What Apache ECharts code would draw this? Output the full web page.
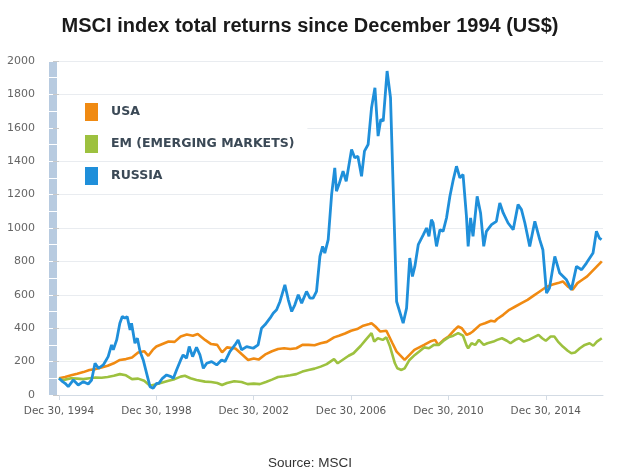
<!DOCTYPE html>
<html>
<head>
<meta charset="utf-8">
<script src="https://cdn.jsdelivr.net/npm/echarts@6/dist/echarts.min.js"></script>
<style>html,body{margin:0;padding:0;background:#fff}#c{width:620px;height:473px}</style>
</head>
<body>
<div id="c"></div>
<script>
// time = years after Dec 30, 1994
const seriesNames = ['USA', 'EM (EMERGING MARKETS)', 'RUSSIA'];
const xTickYears = [0, 4, 8, 12, 16, 20];
const yTicks = [0, 200, 400, 600, 800, 1000, 1200, 1400, 1600, 1800, 2000];

const usaT = [0,0.25,0.5,0.75,1,1.25,1.5,1.75,2,2.25,2.5,2.75,3,3.25,3.5,3.67,3.85,4,4.25,4.5,4.75,5,5.25,5.5,5.7,6,6.25,6.5,6.7,6.9,7.25,7.5,7.77,8,8.2,8.5,8.75,9,9.25,9.5,9.75,10,10.25,10.5,10.75,11,11.3,11.5,11.75,12,12.25,12.5,12.75,12.84,13,13.2,13.45,13.7,13.87,14,14.2,14.4,14.6,14.8,15,15.25,15.45,15.58,15.8,16,16.25,16.4,16.55,16.75,16.9,17,17.3,17.5,17.75,17.9,18,18.25,18.5,18.75,19,19.25,19.5,19.75,20,20.25,20.5,20.7,20.9,21.1,21.3,21.5,21.7,21.9,22.1,22.3];
const usaV = [100,108,118,127,137,150,155,165,175,190,210,215,225,255,262,235,270,290,305,320,318,350,362,355,365,330,305,300,255,285,278,245,210,218,212,245,262,275,280,275,280,300,300,298,310,318,345,355,368,385,395,415,425,430,410,380,385,310,260,240,210,240,270,285,300,320,330,300,330,350,390,410,400,360,370,380,420,430,445,440,455,480,510,530,550,570,595,620,645,660,670,680,650,630,670,690,710,740,770,800];

const emT = [0,0.1,0.25,0.5,0.75,1,1.25,1.5,1.75,2,2.25,2.5,2.75,3,3.25,3.5,3.74,4,4.25,4.5,4.75,5,5.17,5.4,5.65,6,6.25,6.5,6.7,6.9,7.2,7.5,7.75,8,8.25,8.5,8.75,9,9.25,9.5,9.75,10,10.25,10.5,10.75,11,11.3,11.45,11.6,11.9,12.1,12.4,12.6,12.84,12.95,13.1,13.3,13.45,13.6,13.8,13.9,14.07,14.2,14.4,14.62,14.8,15,15.2,15.4,15.6,15.8,16,16.2,16.4,16.6,16.75,16.81,16.95,17.1,17.25,17.45,17.6,17.85,18,18.2,18.4,18.55,18.75,18.9,19.1,19.3,19.5,19.7,19.85,20,20.2,20.35,20.5,20.7,20.9,21.05,21.2,21.4,21.6,21.8,21.95,22.1,22.3];
const emV = [100,90,92,100,98,95,100,105,103,108,115,125,118,95,98,85,55,65,75,85,95,110,115,100,90,80,78,72,60,72,82,78,65,68,65,78,92,108,112,118,125,140,150,158,170,185,215,190,205,235,250,295,330,370,320,340,330,345,290,190,160,150,160,210,240,260,285,280,300,300,325,345,355,370,355,295,280,310,300,330,300,310,320,330,340,325,310,330,340,320,330,345,360,340,325,350,350,320,290,265,250,255,280,300,310,295,320,340];

const ruT = [0,0.15,0.25,0.38,0.59,0.79,1,1.2,1.34,1.48,1.62,1.82,2.02,2.16,2.23,2.37,2.5,2.6,2.71,2.8,2.92,2.98,3.12,3.22,3.33,3.46,3.6,3.74,3.87,4.01,4.1,4.25,4.42,4.6,4.7,4.83,5,5.1,5.24,5.35,5.49,5.65,5.79,5.93,6.07,6.27,6.48,6.68,6.82,7.02,7.23,7.36,7.5,7.71,7.98,8.18,8.32,8.46,8.67,8.8,8.94,9.08,9.28,9.42,9.56,9.69,9.83,9.97,10.17,10.31,10.44,10.58,10.72,10.83,10.92,11.06,11.2,11.33,11.4,11.5,11.67,11.8,12.02,12.15,12.28,12.43,12.55,12.7,12.84,12.98,13.11,13.22,13.32,13.48,13.62,13.73,13.87,14.14,14.28,14.41,14.52,14.62,14.76,14.97,15.1,15.2,15.3,15.37,15.51,15.65,15.78,15.92,16.06,16.2,16.33,16.47,16.6,16.74,16.81,16.91,17.01,17.18,17.32,17.45,17.56,17.77,17.97,18.11,18.25,18.45,18.66,18.86,19,19.14,19.34,19.55,19.75,19.88,20.03,20.15,20.37,20.57,20.85,21.05,21.26,21.47,21.67,21.94,22.08,22.2,22.29];
const ruV = [100,80,70,50,90,60,80,66,90,190,160,180,230,300,270,330,430,470,460,470,390,430,310,340,260,210,130,50,40,70,70,100,120,110,100,150,210,240,220,290,230,285,240,160,190,200,180,210,200,260,300,330,270,290,280,300,400,420,460,490,510,560,660,570,500,540,600,550,620,580,580,620,830,890,850,930,1200,1360,1220,1260,1340,1280,1470,1420,1430,1310,1460,1500,1720,1840,1550,1650,1640,1940,1780,1240,560,430,520,820,710,770,900,960,1000,950,1050,1030,890,990,980,1060,1190,1290,1370,1300,1320,1070,890,1060,950,1190,1090,890,980,1020,1040,1150,1090,1030,990,1140,1110,1030,890,1040,930,870,610,640,830,730,690,630,770,750,790,850,980,940,930];

const zip = (t, v) => t.map((x, i) => [x, v[i]]);
const colors = ['#f08a12', '#9dc13f', '#1f8fda'];
const FONT = 'DejaVu Sans';

const chart = echarts.init(document.getElementById('c'), null, {renderer: 'canvas'});
const legendText = {fontFamily: FONT, fontSize: 12.5, fontWeight: 'bold', color: '#3b4956', padding: [0, 0, 0, 8]};
chart.setOption({
  animation: false,
  backgroundColor: '#ffffff',
  title: [
    {text: 'MSCI index total returns since December 1994 (US$)', left: 'center', top: 11,
     textStyle: {fontFamily: 'Liberation Sans', fontSize: 20, fontWeight: 'bold', color: '#1a1a1a'}},
    {text: 'Source: MSCI', left: 'center', top: 451,
     textStyle: {fontFamily: 'Liberation Sans', fontSize: 13.5, fontWeight: 'normal', color: '#333333'}}
  ],
  legend: [
    {
      data: [seriesNames[0], seriesNames[1]],
      orient: 'vertical', left: 59, top: 97,
      padding: [6, 13, 5, 26], itemGap: 14,
      itemWidth: 13, itemHeight: 18, icon: 'rect',
      backgroundColor: '#ffffff',
      textStyle: legendText,
      selectedMode: false
    },
    {
      data: [seriesNames[2]],
      orient: 'vertical', left: 85, top: 167,
      padding: 0, itemWidth: 13, itemHeight: 18, icon: 'rect',
      textStyle: legendText,
      selectedMode: false
    }
  ],
  grid: [
    {left: 59, right: 17, top: 61, bottom: 78, containLabel: false},
    {left: 49, width: 8, top: 61, bottom: 78, show: true, backgroundColor: '#b8cbe0', borderWidth: 0}
  ],
  xAxis: [
    {
      type: 'value', gridIndex: 0, min: 0, max: 22.35, interval: 4,
      axisLine: {show: true, lineStyle: {color: '#d3dbe4', width: 1}},
      axisTick: {show: true, length: 5, lineStyle: {color: '#d3dbe4'}, customValues: xTickYears},
      axisLabel: {
        customValues: xTickYears,
        margin: 11, color: '#5a5a5a', fontFamily: FONT, fontSize: 10.5,
        formatter: v => 'Dec 30, ' + (1994 + Math.round(v))
      },
      splitLine: {show: false}
    },
    {type: 'value', gridIndex: 1, min: 0, max: 1, show: false}
  ],
  yAxis: [
    {
      type: 'value', gridIndex: 0, min: 0, max: 2000, interval: 200, offset: 13,
      axisLine: {show: false},
      axisTick: {show: true, length: 6, lineStyle: {color: '#c9c9c9'}},
      axisLabel: {margin: 11, color: '#666666', fontFamily: FONT, fontSize: 11, formatter: v => String(v)},
      splitLine: {show: true, lineStyle: {color: '#e9ecf0', width: 1}}
    },
    {
      type: 'value', gridIndex: 1, min: 0, max: 2000, interval: 100,
      axisLine: {show: false}, axisTick: {show: false}, axisLabel: {show: false},
      splitLine: {show: true, lineStyle: {color: '#ffffff', width: 1}}
    }
  ],
  series: [
    {name: seriesNames[0], type: 'line', data: zip(usaT, usaV), showSymbol: false, lineStyle: {width: 2.6, color: colors[0]}, itemStyle: {color: colors[0]}},
    {name: seriesNames[1], type: 'line', data: zip(emT, emV), showSymbol: false, lineStyle: {width: 2.6, color: colors[1]}, itemStyle: {color: colors[1]}},
    {name: seriesNames[2], type: 'line', data: zip(ruT, ruV), showSymbol: false, lineStyle: {width: 2.8, color: colors[2]}, itemStyle: {color: colors[2]}}
  ]
});
</script>
</body>
</html>
